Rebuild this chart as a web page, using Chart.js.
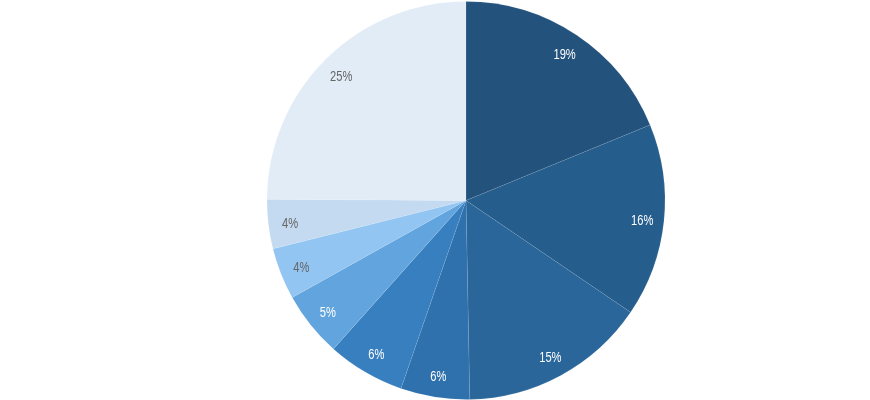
<!DOCTYPE html>
<html><head><meta charset="utf-8">
<script src="https://cdn.jsdelivr.net/npm/chart.js@4"></script>
<style>html,body{margin:0;padding:0;background:#fff;}#wrap{width:870px;height:400px;}</style>
</head><body><div id="wrap"><canvas id="c" width="870" height="400"></canvas></div>
<script>
const categories = ["A","B","C","D","E","F","G","H","I"];
const values = [18.8, 15.7, 15.2, 5.6, 6.3, 5.3, 4.2, 4.0, 24.9];
const labelsText = ["19%","16%","15%","6%","6%","5%","4%","4%","25%"];
const colors = ["#23527c","#255d8c","#2a6699","#2f71ad","#387fbf","#62a5de","#92c5f2","#c4daf0","#e2ecf7"];
const textColors = ["#ffffff","#ffffff","#ffffff","#ffffff","#ffffff","#ffffff","#666666","#666666","#666666"];

const labelPlugin = {
  id: 'sliceLabels',
  afterDatasetsDraw(chart) {
    const ctx = chart.ctx;
    const meta = chart.getDatasetMeta(0);
    meta.data.forEach((arc, i) => {
      const mid = (arc.startAngle + arc.endAngle) / 2;
      const r = arc.outerRadius * 0.89;
      const x = arc.x + Math.cos(mid) * r;
      const y = arc.y + Math.sin(mid) * r + 2;
      ctx.save();
      ctx.translate(x, y);
      ctx.scale(0.77, 1);
      ctx.font = '14.5px "Liberation Sans", Arial, sans-serif';
      ctx.textAlign = 'center';
      ctx.textBaseline = 'middle';
      ctx.fillStyle = textColors[i];
      ctx.fillText(labelsText[i], 0, 0);
      ctx.restore();
    });
  }
};

new Chart(document.getElementById('c'), {
  type: 'pie',
  data: {
    labels: categories,
    datasets: [{
      data: values,
      backgroundColor: colors,
      borderColor: 'rgba(255,255,255,0.08)',
      borderWidth: 1
    }]
  },
  options: {
    responsive: false,
    animation: false,
    layout: { padding: { top: 1, bottom: 0, left: 62, right: 0 } },
    plugins: { legend: { display: false }, tooltip: { enabled: false } }
  },
  plugins: [labelPlugin]
});
</script>
</body></html>
